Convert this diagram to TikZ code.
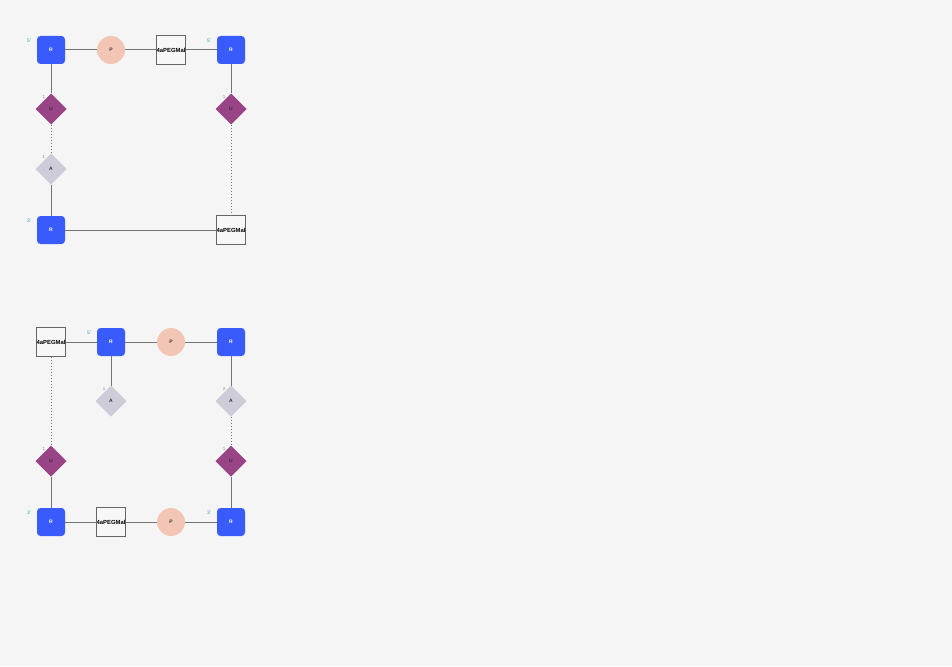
\documentclass[tikz,border=0pt]{standalone}
\usepackage{fontspec}
\setmainfont{Liberation Sans}
\usetikzlibrary{shapes.geometric}
\definecolor{bg}{HTML}{F5F5F5}
\definecolor{ribo}{HTML}{3A5BFB}
\definecolor{phos}{HTML}{F2C5B5}
\definecolor{uracil}{HTML}{9A4488}
\definecolor{aden}{HTML}{CDCCD8}
\definecolor{linker}{HTML}{F7F7F7}
\definecolor{edge}{HTML}{737373}
\definecolor{endlbl}{HTML}{2A9FAE}
\tikzset{
  x=1pt, y=-1pt,
  every node/.style={inner sep=0pt, outer sep=0pt, font=\fontsize{5}{6}\selectfont\bfseries},
  sugar/.style={rectangle, rounded corners=3.5pt, fill=ribo, minimum size=28pt, text=white},
  phosph/.style={circle, fill=phos, minimum size=28pt, text=black!75},
  pegbox/.style={rectangle, draw=black!60, line width=1pt, fill=linker, minimum size=29pt, text=black,
    font=\fontsize{5.9}{7}\selectfont\bfseries},
  ubase/.style={diamond, fill=uracil, minimum size=31pt, text=black!80},
  abase/.style={diamond, fill=aden, minimum size=31pt, text=black!80},
  bond/.style={draw=edge, line width=1pt},
  pair/.style={draw=edge, line width=1pt, dotted},
  endtag/.style={text=endlbl, font=\fontsize{5}{6}\selectfont},
  idx/.style={text=black!45, font=\fontsize{4.5}{5}\selectfont},
}
\begin{document}
\begin{tikzpicture}
\fill[bg] (0,0) rectangle (952,666);
\useasboundingbox (0,0) rectangle (952,666);

% ---- first construct ----
\node[sugar] (r1) at (51,50) {R};
\node[phosph] (p1) at (111,50) {P};
\node[pegbox] (g1) at (171,50) {4aPEGMal};
\node[sugar] (r2) at (231,50) {R};
\node[ubase] (u1) at (51,109) {U};
\node[ubase] (u2) at (231,109) {U};
\node[abase] (a1) at (51,169) {A};
\node[sugar] (r3) at (51,230) {R};
\node[pegbox] (g2) at (231,230) {4aPEGMal};

\node[endtag] (e1) at (29,41) {5'};
\node[endtag] (e2) at (209,41) {5'};
\node[endtag] (e3) at (29,221) {3'};
\node[idx] (i1) at (44,97) {1};
\node[idx] (i2) at (224,97) {1};
\node[idx] (i3) at (44,157) {1};

\path[bond] (r1) -- (p1);
\path[bond] (p1) -- (g1);
\path[bond] (g1) -- (r2);
\path[bond] (r1) -- (u1);
\path[bond] (r2) -- (u2);
\path[pair] (u1) -- (a1);
\path[bond] (a1) -- (r3);
\path[bond] (r3) -- (g2);
\path[pair] (u2) -- (g2);

% ---- second construct ----
\node[pegbox] (g3) at (51,342) {4aPEGMal};
\node[sugar] (r4) at (111,342) {R};
\node[phosph] (p2) at (171,342) {P};
\node[sugar] (r5) at (231,342) {R};
\node[abase] (a2) at (111,401) {A};
\node[abase] (a3) at (231,401) {A};
\node[ubase] (u3) at (51,461) {U};
\node[ubase] (u4) at (231,461) {U};
\node[sugar] (r6) at (51,522) {R};
\node[pegbox] (g4) at (111,522) {4aPEGMal};
\node[phosph] (p3) at (171,522) {P};
\node[sugar] (r7) at (231,522) {R};

\node[endtag] (e4) at (89,333) {5'};
\node[endtag] (e5) at (29,513) {3'};
\node[endtag] (e6) at (209,513) {3'};
\node[idx] (i4) at (104,389) {1};
\node[idx] (i5) at (224,389) {2};
\node[idx] (i6) at (44,449) {1};
\node[idx] (i7) at (224,449) {1};

\path[bond] (g3) -- (r4);
\path[bond] (r4) -- (p2);
\path[bond] (p2) -- (r5);
\path[bond] (r4) -- (a2);
\path[bond] (r5) -- (a3);
\path[pair] (a3) -- (u4);
\path[pair] (g3) -- (u3);
\path[bond] (u3) -- (r6);
\path[bond] (u4) -- (r7);
\path[bond] (r6) -- (g4);
\path[bond] (g4) -- (p3);
\path[bond] (p3) -- (r7);
\end{tikzpicture}
\end{document}
